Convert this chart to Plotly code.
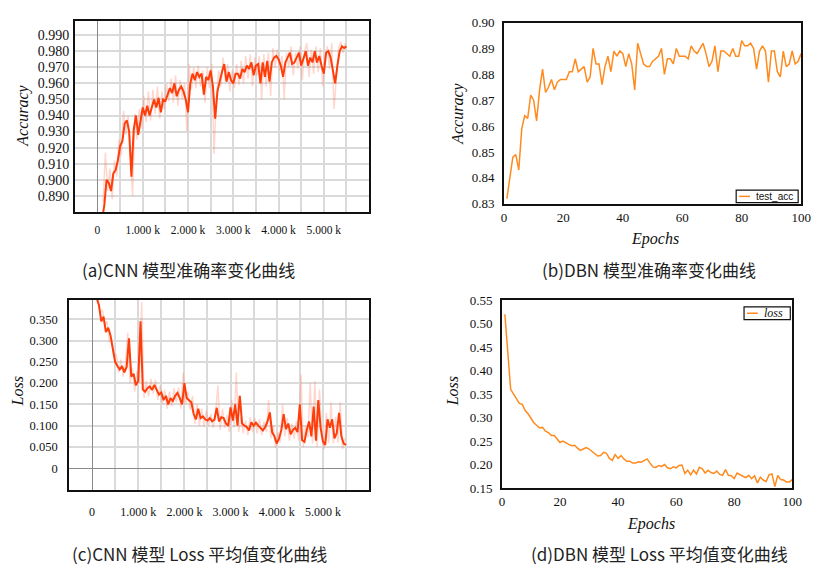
import plotly.graph_objects as go

# ---------------- data ----------------
# (a) CNN accuracy: smoothed line, every 50 steps starting at step 100
cnn_acc_smooth = [
    0.875, 0.884, 0.900, 0.898, 0.893, 0.904, 0.906, 0.912, 0.921, 0.924,
    0.935, 0.937, 0.930, 0.902, 0.931, 0.940, 0.928, 0.936, 0.945, 0.940,
    0.946, 0.940, 0.946, 0.950, 0.945, 0.951, 0.942, 0.950, 0.949, 0.953,
    0.957, 0.954, 0.960, 0.952, 0.956, 0.958, 0.955, 0.950, 0.942, 0.960,
    0.966, 0.962, 0.967, 0.964, 0.966, 0.953, 0.964, 0.962, 0.968, 0.958,
    0.938, 0.955, 0.962, 0.967, 0.972, 0.961, 0.967, 0.962, 0.960, 0.966,
    0.966, 0.963, 0.969, 0.967, 0.971, 0.969, 0.973, 0.965, 0.971, 0.972,
    0.960, 0.973, 0.964, 0.974, 0.961, 0.973, 0.976, 0.977, 0.975, 0.971,
    0.964, 0.973, 0.976, 0.979, 0.972, 0.973, 0.976, 0.979, 0.971, 0.975,
    0.980, 0.971, 0.976, 0.973, 0.980, 0.973, 0.977, 0.971, 0.966, 0.979,
    0.980, 0.976, 0.969, 0.960, 0.971, 0.980, 0.983, 0.982, 0.983,
]
# (a) CNN accuracy: raw (faint) line, every 50 steps starting at step 125
cnn_acc_raw = [
    0.886, 0.917, 0.893, 0.907, 0.888, 0.912, 0.902, 0.925, 0.915, 0.943,
    0.928, 0.940, 0.918, 0.890, 0.941, 0.925, 0.944, 0.932, 0.952, 0.936,
    0.955, 0.937, 0.956, 0.941, 0.958, 0.938, 0.955, 0.944, 0.960, 0.949,
    0.963, 0.948, 0.965, 0.946, 0.962, 0.950, 0.960, 0.930, 0.972, 0.956,
    0.970, 0.957, 0.971, 0.958, 0.968, 0.948, 0.970, 0.957, 0.972, 0.916,
    0.950, 0.968, 0.958, 0.976, 0.962, 0.972, 0.955, 0.968, 0.957, 0.972,
    0.959, 0.974, 0.960, 0.977, 0.963, 0.978, 0.958, 0.976, 0.965, 0.977,
    0.950, 0.978, 0.958, 0.979, 0.952, 0.982, 0.970, 0.981, 0.968, 0.977,
    0.950, 0.979, 0.970, 0.983, 0.965, 0.979, 0.969, 0.983, 0.962, 0.980,
    0.985, 0.964, 0.981, 0.966, 0.983, 0.967, 0.982, 0.958, 0.976, 0.983,
    0.969, 0.985, 0.944, 0.962, 0.982, 0.986, 0.979, 0.985,
]
# (c) CNN loss: smoothed line, every 50 steps starting at step 100
cnn_loss_smooth = [
    0.400, 0.383, 0.345, 0.356, 0.320, 0.330, 0.312, 0.275, 0.250, 0.240,
    0.232, 0.240, 0.225, 0.238, 0.305, 0.215, 0.222, 0.195, 0.205, 0.345,
    0.185, 0.180, 0.188, 0.192, 0.184, 0.196, 0.185, 0.173, 0.178, 0.160,
    0.170, 0.150, 0.165, 0.158, 0.170, 0.177, 0.165, 0.150, 0.200, 0.165,
    0.160, 0.155, 0.128, 0.115, 0.140, 0.118, 0.122, 0.115, 0.112, 0.118,
    0.110, 0.114, 0.142, 0.110, 0.120, 0.118, 0.105, 0.100, 0.143, 0.112,
    0.150, 0.100, 0.170, 0.105, 0.100, 0.097, 0.089, 0.108, 0.100, 0.107,
    0.100, 0.095, 0.089, 0.097, 0.110, 0.131, 0.085, 0.075, 0.058, 0.070,
    0.090, 0.127, 0.092, 0.105, 0.080, 0.090, 0.095, 0.085, 0.150, 0.066,
    0.062, 0.090, 0.110, 0.075, 0.145, 0.065, 0.160, 0.095, 0.063, 0.055,
    0.115, 0.095, 0.115, 0.070, 0.083, 0.130, 0.075, 0.058, 0.055,
]
# (c) CNN loss: raw (faint) line, every 50 steps starting at step 125
cnn_loss_raw = [
    0.395, 0.365, 0.372, 0.335, 0.345, 0.298, 0.300, 0.262, 0.268, 0.225,
    0.255, 0.215, 0.248, 0.318, 0.200, 0.235, 0.180, 0.228, 0.200, 0.390,
    0.165, 0.205, 0.168, 0.210, 0.175, 0.208, 0.160, 0.195, 0.150, 0.185,
    0.140, 0.180, 0.145, 0.188, 0.155, 0.190, 0.140, 0.225, 0.150, 0.180,
    0.138, 0.170, 0.105, 0.150, 0.100, 0.140, 0.098, 0.135, 0.100, 0.128,
    0.095, 0.125, 0.195, 0.090, 0.140, 0.095, 0.125, 0.085, 0.160, 0.095,
    0.225, 0.085, 0.120, 0.082, 0.112, 0.078, 0.120, 0.085, 0.118, 0.082,
    0.115, 0.078, 0.110, 0.085, 0.160, 0.070, 0.100, 0.048, 0.085, 0.060,
    0.150, 0.075, 0.118, 0.065, 0.105, 0.070, 0.110, 0.065, 0.220, 0.050,
    0.100, 0.072, 0.200, 0.058, 0.205, 0.050, 0.185, 0.080, 0.045, 0.130,
    0.060, 0.155, 0.058, 0.120, 0.060, 0.155, 0.045, 0.070,
]
cnn_smooth_start, cnn_raw_start, cnn_step = 100, 125, 50

# (b) DBN test accuracy, epochs 1..100
dbn_acc = [
    0.832, 0.841, 0.848, 0.849, 0.843, 0.859, 0.864, 0.863, 0.872, 0.870,
    0.862, 0.874, 0.882, 0.873, 0.875, 0.878, 0.874, 0.877, 0.878, 0.878,
    0.878, 0.881, 0.881, 0.886, 0.881, 0.882, 0.883, 0.877, 0.879, 0.890,
    0.884, 0.884, 0.876, 0.883, 0.887, 0.881, 0.889, 0.887, 0.889, 0.888,
    0.883, 0.888, 0.884, 0.874, 0.892, 0.888, 0.884, 0.883, 0.883, 0.885,
    0.886, 0.887, 0.890, 0.880, 0.886, 0.886, 0.884, 0.890, 0.887, 0.887,
    0.887, 0.886, 0.891, 0.889, 0.888, 0.890, 0.892, 0.888, 0.883, 0.885,
    0.891, 0.881, 0.889, 0.889, 0.888, 0.887, 0.890, 0.887, 0.887, 0.893,
    0.891, 0.891, 0.892, 0.890, 0.882, 0.889, 0.891, 0.889, 0.877, 0.889,
    0.889, 0.881, 0.879, 0.889, 0.883, 0.884, 0.889, 0.884, 0.885, 0.888,
]
# (d) DBN loss, epochs 1..100
dbn_loss = [
    0.520, 0.440, 0.360, 0.350, 0.340, 0.330, 0.328, 0.315, 0.308, 0.297,
    0.289, 0.283, 0.278, 0.279, 0.271, 0.268, 0.262, 0.262, 0.255, 0.247,
    0.250, 0.246, 0.243, 0.240, 0.241, 0.235, 0.230, 0.233, 0.236, 0.233,
    0.228, 0.222, 0.218, 0.219, 0.226, 0.224, 0.213, 0.209, 0.221, 0.213,
    0.219, 0.212, 0.207, 0.207, 0.203, 0.203, 0.206, 0.205, 0.209, 0.212,
    0.203, 0.195, 0.194, 0.198, 0.196, 0.200, 0.193, 0.191, 0.195, 0.193,
    0.198, 0.199, 0.181, 0.188, 0.178, 0.188, 0.180, 0.194, 0.191, 0.182,
    0.188, 0.183, 0.181, 0.186, 0.179, 0.177, 0.189, 0.177, 0.176, 0.170,
    0.182, 0.178, 0.175, 0.172, 0.177, 0.170, 0.176, 0.161, 0.173, 0.167,
    0.164, 0.178, 0.180, 0.153, 0.177, 0.168, 0.167, 0.163, 0.163, 0.168,
]
epochs = list(range(1, 101))

# tick labels
cnn_x_tickvals = [0, 500, 1000, 1500, 2000, 2500, 3000, 3500, 4000, 4500, 5000, 5500]
cnn_x_ticktext = ["0", "", "1.000 k", "", "2.000 k", "", "3.000 k", "", "4.000 k", "", "5.000 k", ""]
cnn_acc_tickvals = [0.89, 0.90, 0.91, 0.92, 0.93, 0.94, 0.95, 0.96, 0.97, 0.98, 0.99]
cnn_acc_ticktext = ["0.890", "0.900", "0.910", "0.920", "0.930", "0.940", "0.950", "0.960", "0.970", "0.980", "0.990"]
cnn_loss_tickvals = [0, 0.05, 0.10, 0.15, 0.20, 0.25, 0.30, 0.35]
cnn_loss_ticktext = ["0", "0.050", "0.100", "0.150", "0.200", "0.250", "0.300", "0.350"]
dbn_acc_tickvals = [0.83, 0.84, 0.85, 0.86, 0.87, 0.88, 0.89, 0.90]
dbn_acc_ticktext = ["0.83", "0.84", "0.85", "0.86", "0.87", "0.88", "0.89", "0.90"]
dbn_loss_tickvals = [0.15, 0.20, 0.25, 0.30, 0.35, 0.40, 0.45, 0.50, 0.55]
dbn_loss_ticktext = ["0.15", "0.20", "0.25", "0.30", "0.35", "0.40", "0.45", "0.50", "0.55"]
epoch_tickvals = [0, 20, 40, 60, 80, 100]

captions = ["(a)CNN 模型准确率变化曲线", "(b)DBN 模型准确率变化曲线",
            "(c)CNN 模型 Loss 平均值变化曲线", "(d)DBN 模型 Loss 平均值变化曲线"]
legend_names = ["test_acc", "<i>loss</i>"]

# ---------------- figure ----------------
W, H = 819, 571
def px_x(a, b):
    return [a / W, b / W]
def px_y(top, bottom):
    return [1 - bottom / H, 1 - top / H]
def fx(x):
    return x / W
def fy(y):
    return 1 - y / H

def steps(start, n):
    return [start + cnn_step * i for i in range(n)]

RED = "#ff3d0a"
RED_FAINT = "rgba(255,110,80,0.28)"
ORANGE = "#ff8a1e"

fig = go.Figure()
# (a)
fig.add_trace(go.Scatter(x=steps(cnn_raw_start, len(cnn_acc_raw)), y=cnn_acc_raw, mode="lines",
                         line=dict(color=RED_FAINT, width=1.5), xaxis="x", yaxis="y", showlegend=False))
fig.add_trace(go.Scatter(x=steps(cnn_smooth_start, len(cnn_acc_smooth)), y=cnn_acc_smooth, mode="lines",
                         line=dict(color=RED, width=2), xaxis="x", yaxis="y", showlegend=False))
# (b)
fig.add_trace(go.Scatter(x=epochs, y=dbn_acc, mode="lines", name=legend_names[0],
                         line=dict(color=ORANGE, width=1.5), xaxis="x2", yaxis="y2", showlegend=False))
# (c)
fig.add_trace(go.Scatter(x=steps(cnn_raw_start, len(cnn_loss_raw)), y=cnn_loss_raw, mode="lines",
                         line=dict(color=RED_FAINT, width=1.5), xaxis="x3", yaxis="y3", showlegend=False))
fig.add_trace(go.Scatter(x=steps(cnn_smooth_start, len(cnn_loss_smooth)), y=cnn_loss_smooth, mode="lines",
                         line=dict(color=RED, width=2), xaxis="x3", yaxis="y3", showlegend=False))
# (d)
fig.add_trace(go.Scatter(x=epochs, y=dbn_loss, mode="lines", name=legend_names[1],
                         line=dict(color=ORANGE, width=1.5), xaxis="x4", yaxis="y4", showlegend=False))

SERIF = "Liberation Serif"
def tf(size):
    return dict(family=SERIF, size=size, color="#111")

cnn_common = dict(showgrid=True, gridcolor="#dadada", gridwidth=1.5,
                  showline=True, linecolor="#111", linewidth=1.5, mirror=True,
                  ticks="", zeroline=True, zerolinecolor="#8a8a8a", zerolinewidth=1.2)
dbn_common = dict(showgrid=False, zeroline=False, showline=True, linecolor="#111",
                  linewidth=1.5, mirror=True, ticks="")

fig.update_layout(
    width=W, height=H, margin=dict(l=0, r=0, t=0, b=0),
    paper_bgcolor="white", plot_bgcolor="white", showlegend=False,
    xaxis=dict(domain=px_x(73, 372), range=[-500, 6000], anchor="y",
               tickmode="array", tickvals=cnn_x_tickvals, ticktext=cnn_x_ticktext,
               tickfont=tf(11.5), ticklabelstandoff=6, **cnn_common),
    yaxis=dict(domain=px_y(14, 211), range=[0.8797, 0.999], anchor="x",
               tickmode="array", tickvals=cnn_acc_tickvals, ticktext=cnn_acc_ticktext,
               tickfont=tf(14), ticklabelstandoff=1, **cnn_common),
    xaxis2=dict(domain=px_x(509, 811), range=[0, 100], anchor="y2",
                tickmode="array", tickvals=epoch_tickvals,
                tickfont=tf(13), ticklabelstandoff=1, **dbn_common),
    yaxis2=dict(domain=px_y(16, 202), range=[0.83, 0.90], anchor="x2",
                tickmode="array", tickvals=dbn_acc_tickvals, ticktext=dbn_acc_ticktext,
                tickfont=tf(13), ticklabelstandoff=5, **dbn_common),
    xaxis3=dict(domain=px_x(67, 372), range=[-500, 6000], anchor="y3",
                tickmode="array", tickvals=cnn_x_tickvals, ticktext=cnn_x_ticktext,
                tickfont=tf(12), ticklabelstandoff=10, **cnn_common),
    yaxis3=dict(domain=px_y(301, 496), range=[-0.051, 0.395], anchor="x3",
                tickmode="array", tickvals=cnn_loss_tickvals, ticktext=cnn_loss_ticktext,
                tickfont=tf(12.5), ticklabelstandoff=7, **cnn_common),
    xaxis4=dict(domain=px_x(507, 802), range=[0, 100], anchor="y4",
                tickmode="array", tickvals=epoch_tickvals,
                tickfont=tf(13), ticklabelstandoff=1, **dbn_common),
    yaxis4=dict(domain=px_y(301, 494), range=[0.15, 0.55], anchor="x4",
                tickmode="array", tickvals=dbn_loss_tickvals, ticktext=dbn_loss_ticktext,
                tickfont=tf(13), ticklabelstandoff=5, **dbn_common),
)

ann = []
def add_text(text, x, y, size, family, angle=0, xanchor="center", color="#111"):
    ann.append(dict(text=text, x=fx(x), y=fy(y), xref="paper", yref="paper",
                    showarrow=False, textangle=angle, xanchor=xanchor, yanchor="middle",
                    font=dict(family=family, size=size, color=color)))

add_text("<i>Accuracy</i>", 20, 112, 16, SERIF, -90)
add_text("<i>Loss</i>", 15, 395, 16, SERIF, -90)
add_text("<i>Accuracy</i>", 462, 110, 16, SERIF, -90)
add_text("<i>Epochs</i>", 663, 238, 16, SERIF)
add_text("<i>Loss</i>", 457, 395, 16, SERIF, -90)
add_text("<i>Epochs</i>", 658, 531, 16, SERIF)

cap_font = "Noto Sans CJK SC"
add_text(captions[0], 188, 270, 17, cap_font, color="#222")
add_text(captions[1], 656, 270, 17, cap_font, color="#222")
add_text(captions[2], 200, 561, 17, cap_font, color="#222")
add_text(captions[3], 667, 561, 17, cap_font, color="#222")

# legend boxes (b) and (d)
shapes = [
    dict(type="rect", xref="paper", yref="paper", x0=fx(745), x1=fx(808), y0=fy(201), y1=fy(188),
         line=dict(color="#111", width=1.2), fillcolor="white", layer="above"),
    dict(type="line", xref="paper", yref="paper", x0=fx(748), x1=fx(759), y0=fy(194.5), y1=fy(194.5),
         line=dict(color=ORANGE, width=1.5), layer="above"),
    dict(type="rect", xref="paper", yref="paper", x0=fx(753), x1=fx(800), y0=fy(321), y1=fy(308),
         line=dict(color="#111", width=1.2), fillcolor="white", layer="above"),
    dict(type="line", xref="paper", yref="paper", x0=fx(756), x1=fx(767), y0=fy(314.5), y1=fy(314.5),
         line=dict(color=ORANGE, width=1.5), layer="above"),
]
ann.append(dict(text=legend_names[0], x=fx(763), y=fy(194.5), xref="paper", yref="paper",
                showarrow=False, xanchor="left", yanchor="middle",
                font=dict(family="Liberation Sans", size=10, color="#111")))
ann.append(dict(text=legend_names[1], x=fx(771), y=fy(314.5), xref="paper", yref="paper",
                showarrow=False, xanchor="left", yanchor="middle",
                font=dict(family=SERIF, size=12, color="#111")))

fig.update_layout(annotations=ann, shapes=shapes)
fig.write_html("out.html", config={"displayModeBar": False},
               post_script="document.body.style.margin='0px';")
